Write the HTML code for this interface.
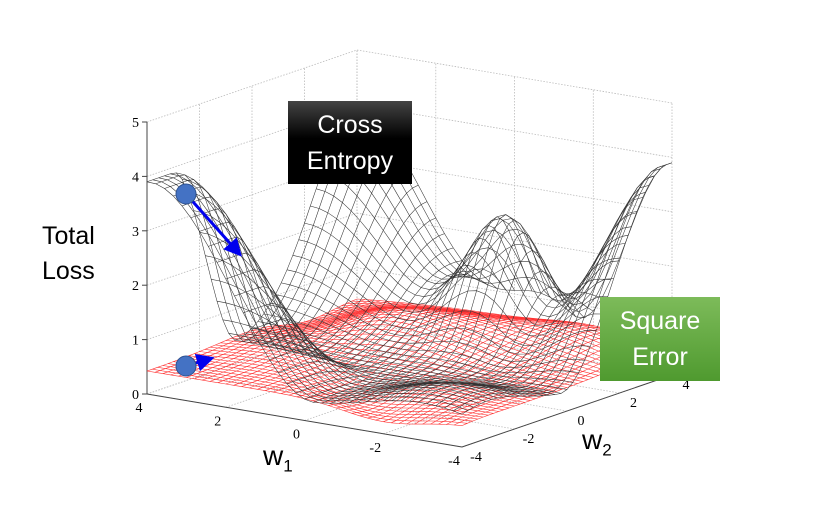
<!DOCTYPE html>
<html><head><meta charset="utf-8"><style>
body{margin:0;background:#fff;width:820px;height:519px;overflow:hidden;font-family:"Liberation Serif",serif}
.box{position:absolute;color:#fff;font-family:"Liberation Sans",sans-serif;font-size:25px;text-align:center;line-height:36px}
.lbl{position:absolute;font-family:"Liberation Sans",sans-serif;color:#000}
</style></head><body>
<svg id="s" width="820" height="519" style="position:absolute;left:0;top:0"></svg>
<div class="lbl" style="left:42px;top:219px;font-size:25px;text-align:center;line-height:35px">Total<br>Loss</div>
<div class="lbl" style="left:263px;top:440px;font-size:28px">w<sub style="font-size:17px">1</sub></div>
<div class="lbl" style="left:582px;top:424px;font-size:28px">w<sub style="font-size:17px">2</sub></div>
<div class="box" style="left:288px;top:101px;width:124px;height:83px;background:linear-gradient(#444,#000 45%);padding-top:6px;box-sizing:border-box">Cross<br>Entropy</div>
<div class="box" style="left:600px;top:297px;width:120px;height:84px;background:linear-gradient(#7dbb5a,#4f9a2f);padding-top:6px;box-sizing:border-box">Square<br>Error</div>
<script>
var s=document.getElementById('s'),h='';
function P(w1,w2,z){var u=(4-w1)/8,v=(w2+4)/8;return[147+315*u+210*v,394+53*u-72*v-54.4*z];}
function L(a,b,c){h+='<line x1="'+a[0].toFixed(1)+'" y1="'+a[1].toFixed(1)+'" x2="'+b[0].toFixed(1)+'" y2="'+b[1].toFixed(1)+'" style="'+c+'"/>';}
var g='stroke:#bbb;stroke-width:0.8;stroke-dasharray:1.5 1.5';
for(var z=0;z<=5;z++){L(P(4,-4,z),P(4,4,z),g);L(P(4,4,z),P(-4,4,z),g);}
for(var t=-4;t<=4;t+=2){L(P(4,t,0),P(4,t,5),g);L(P(t,4,0),P(t,4,5),g);L(P(t,-4,0),P(t,4,0),g);L(P(4,t,0),P(-4,t,0),g);}
var a='stroke:#444;stroke-width:1';
L(P(4,-4,0),P(4,-4,5),a);L(P(4,-4,0),P(-4,-4,0),a);L(P(-4,-4,0),P(-4,4,0),a);
for(z=0;z<=5;z++){var p=P(4,-4,z);L(p,[p[0]-5,p[1]],a);h+='<text x="'+(p[0]-8)+'" y="'+(p[1]+5)+'" font-size="14" text-anchor="end">'+z+'</text>';}
for(t=-4;t<=4;t+=2){var p=P(t,-4,0);h+='<text x="'+(p[0]-8)+'" y="'+(p[1]+18)+'" font-size="14" text-anchor="middle">'+t+'</text>';
 p=P(-4,t,0);h+='<text x="'+(p[0]+14)+'" y="'+(p[1]+14)+'" font-size="14" text-anchor="middle">'+t+'</text>';}
function G(x,y,cx,cy,s){return Math.exp(-((x-cx)*(x-cx)+(y-cy)*(y-cy))/s);}
function sm(t){return t<0?0:t>1?1:t*t*(3-2*t);}
function CE(x,y){
 var A1=sm((x+0.3)/4.2)*sm((-y-0.5)/2.5);
 var A2=sm((y+0.3)/4.1)*sm((-x-1.5)/2.5);
 var z=0.3+3.6*Math.max(A1,A2);
 z+=3.6*G(x,y,4,4,6)+2.4*G(x,y,-0.7,2.6,1.6)+0.5*G(x,y,-3,-3,4);
 return Math.max(0.25,Math.min(z,4.1));}
function SE(x,y){return 0.42+0.6*G(x,y,1,1,6)-0.2*Math.exp(-(x-y-2)*(x-y-2)/2)+0.3*G(x,y,-2,3,3);}
function mesh(f,col,n,w){var st='stroke:'+col+';stroke-width:'+w+';fill:none';
 for(var i=0;i<=n;i++){var pa='',pb='';for(var j=0;j<=n;j++){var x=4-8*i/n,y=-4+8*j/n;var p=P(x,y,f(x,y));pa+=(j?'L':'M')+p[0].toFixed(1)+' '+p[1].toFixed(1);
 x=4-8*j/n;y=-4+8*i/n;p=P(x,y,f(x,y));pb+=(j?'L':'M')+p[0].toFixed(1)+' '+p[1].toFixed(1);}
 h+='<path d="'+pa+'" style="'+st+'"/><path d="'+pb+'" style="'+st+'"/>';}}
mesh(SE,'#f33',40,0.6);mesh(CE,'#333',36,0.55);
h+='<defs><marker id="m" markerWidth="6" markerHeight="6" refX="3" refY="3" orient="auto"><path d="M0,0L6,3L0,6z" fill="#0000ee"/></marker></defs>';
h+='<line x1="186" y1="194" x2="236" y2="250" stroke="#0000ee" stroke-width="3" marker-end="url(#m)"/>';
h+='<line x1="186" y1="366" x2="206" y2="360" stroke="#0000ee" stroke-width="3" marker-end="url(#m)"/>';
h+='<circle cx="186" cy="194" r="10" fill="#4472c4" stroke="#2f528f"/><circle cx="186" cy="366" r="10" fill="#4472c4" stroke="#2f528f"/>';
s.innerHTML=h;
</script>
</body></html>
